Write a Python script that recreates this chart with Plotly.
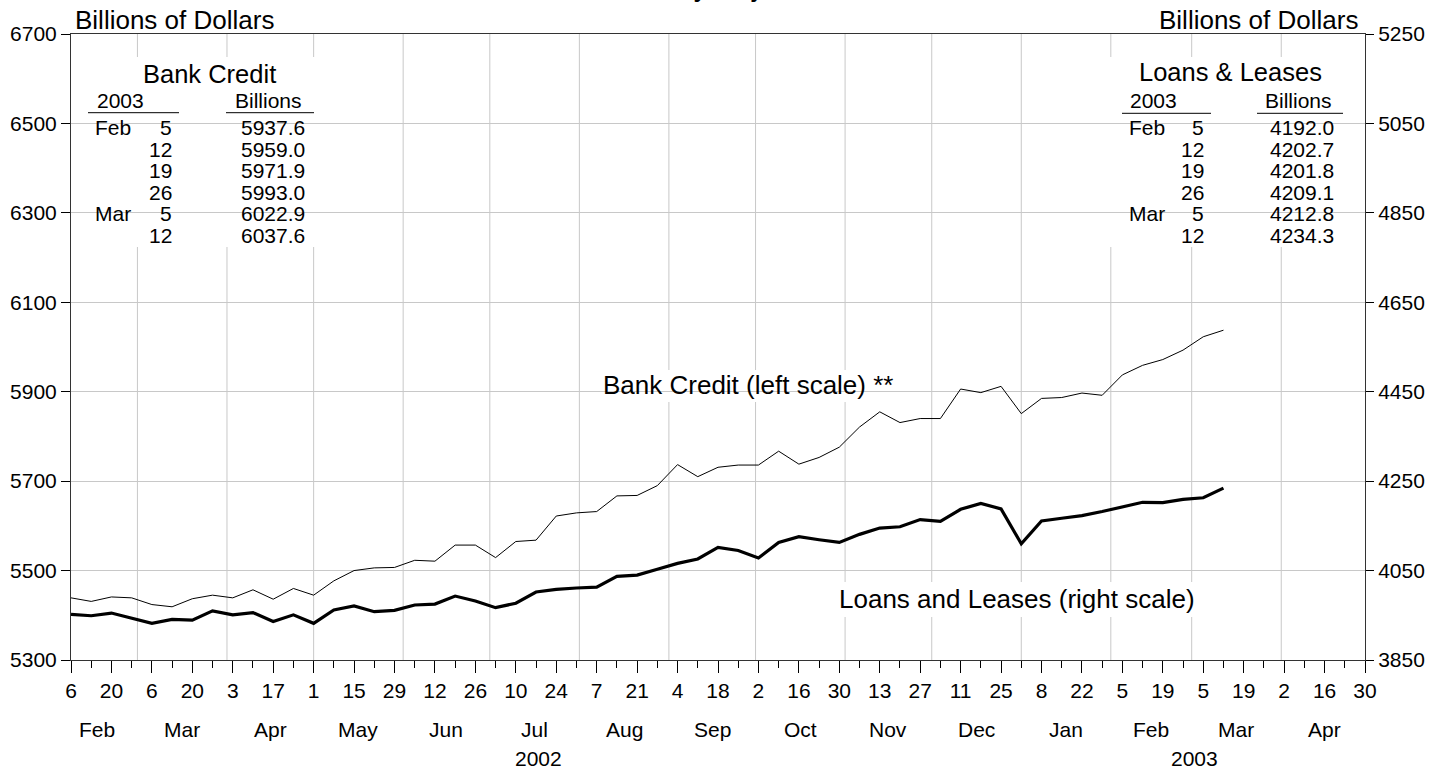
import plotly.graph_objects as go
import pandas as pd

# ---------------- data ----------------
first_week = "2002-02-06"
bank_credit = [5439, 5431, 5441, 5439, 5424, 5419, 5437, 5445, 5439, 5457,
               5436, 5460, 5445, 5477, 5500, 5506, 5507, 5523, 5521, 5557,
               5557, 5529, 5565, 5568, 5622, 5629, 5632, 5667, 5668, 5690,
               5737, 5710, 5731, 5736, 5736, 5767, 5738, 5753, 5776, 5821,
               5855, 5831, 5840, 5840, 5906, 5898, 5912, 5851, 5885, 5887,
               5897, 5892, 5937.6, 5959.0, 5971.9, 5993.0, 6022.9, 6037.6]
loans_leases = [3952, 3949, 3955, 3944, 3932, 3941, 3939, 3960, 3951, 3956,
                3936, 3951, 3932, 3962, 3971, 3958, 3961, 3973, 3975, 3993,
                3982, 3967, 3977, 4002, 4008, 4011, 4013, 4037, 4040, 4053,
                4066, 4076, 4102, 4095, 4078, 4113, 4126, 4119, 4113, 4131,
                4145, 4148, 4164, 4160, 4187, 4200, 4188, 4110, 4161, 4167,
                4173, 4182, 4192.0, 4202.7, 4201.8, 4209.1, 4212.8, 4234.3]

left_ticks = [5300, 5500, 5700, 5900, 6100, 6300, 6500, 6700]
right_ticks = [3850, 4050, 4250, 4450, 4650, 4850, 5050, 5250]
month_labels = ["Feb", "Mar", "Apr", "May", "Jun", "Jul", "Aug", "Sep", "Oct",
                "Nov", "Dec", "Jan", "Feb", "Mar", "Apr"]
month_label_starts = ["2002-02-01", "2002-03-01", "2002-04-01", "2002-05-01",
                      "2002-06-01", "2002-07-01", "2002-08-01", "2002-09-01",
                      "2002-10-01", "2002-11-01", "2002-12-01", "2003-01-01",
                      "2003-02-01", "2003-03-01", "2003-04-01", "2003-05-01"]
year_labels = ["2002", "2003"]
year_spans = [("2002-02-01", "2003-01-01"), ("2003-01-01", "2003-05-01")]

table_months = ["Feb", "", "", "", "Mar", ""]
table_days = ["5", "12", "19", "26", "5", "12"]
table_bank_credit = ["5937.6", "5959.0", "5971.9", "5993.0", "6022.9", "6037.6"]
table_loans = ["4192.0", "4202.7", "4201.8", "4209.1", "4212.8", "4234.3"]

# ---------------- derived positions ----------------
weeks = pd.date_range(first_week, periods=len(bank_credit), freq="7D")
axis_start, axis_end = pd.Timestamp("2002-02-06"), pd.Timestamp("2003-04-30")
label_ticks = pd.date_range(axis_start, axis_end, freq="14D")
label_text = [str(d.day) for d in label_ticks]
week_ticks = pd.date_range(axis_start, axis_end, freq="7D")
month_grid = pd.date_range("2002-03-01", "2003-04-01", freq="MS")
ms = [pd.Timestamp(d) for d in month_label_starts]
month_mids = [ms[i] + (ms[i + 1] - ms[i]) / 2 for i in range(len(month_labels))]
year_mids = [pd.Timestamp(a) + (pd.Timestamp(b) - pd.Timestamp(a)) / 2 for a, b in year_spans]

W, H = 1429, 769
L, R, T, B = 71, 1365, 34, 660
FONT = "Liberation Sans, Arial, Helvetica, sans-serif"
GRID = "#c8c8c8"


def px(x):
    return (x - L) / (R - L)


def py(y):
    return (B - y) / (B - T)


fig = go.Figure()
fig.add_trace(go.Scatter(x=weeks, y=bank_credit, mode="lines",
                         line=dict(color="black", width=1), xaxis="x", yaxis="y",
                         hoverinfo="skip", showlegend=False))
fig.add_trace(go.Scatter(x=weeks, y=loans_leases, mode="lines",
                         line=dict(color="black", width=3.2), xaxis="x", yaxis="y2",
                         hoverinfo="skip", showlegend=False))

ann = []


def text(x, y, s, size=21, xanchor="center", yanchor="middle", xref="paper"):
    ann.append(dict(x=x if xref != "paper" else px(x), y=py(y), xref=xref, yref="paper",
                    text=s, showarrow=False, xanchor=xanchor, yanchor=yanchor,
                    font=dict(family=FONT, size=size, color="black")))


# cut-off title fragment at the very top (only descenders visible, as in reference)
text(697, 4, "Seasonally Adjusted", size=30, yanchor="bottom")
# axis titles
text(73, 20, "Billions of Dollars", size=26, xanchor="left")
text(1360, 20, "Billions of Dollars", size=26, xanchor="right")

# x-axis month and year labels
for lab, mid in zip(month_labels, month_mids):
    text(mid, 729, lab, xref="x")
for lab, mid in zip(year_labels, year_mids):
    text(mid, 759, lab, xref="x")

# tables
row_y = [127.5 + 21.6 * i for i in range(6)]
text(209, 74, "Bank Credit", size=25.5)
text(95, 100, "2003", xanchor="left")
text(304, 100, "Billions", xanchor="right")
text(1230, 72, "Loans & Leases", size=25.5)
text(1128, 100, "2003", xanchor="left")
text(1334, 100, "Billions", xanchor="right")
for i in range(6):
    text(93, row_y[i], table_months[i], xanchor="left")
    text(174, row_y[i], table_days[i], xanchor="right")
    text(307, row_y[i], table_bank_credit[i], xanchor="right")
    text(1127, row_y[i], table_months[i], xanchor="left")
    text(1206, row_y[i], table_days[i], xanchor="right")
    text(1336, row_y[i], table_loans[i], xanchor="right")

# line labels
text(748, 385, "Bank Credit (left scale) **", size=26)
text(1017, 599, "Loans and Leases (right scale)", size=26)

shapes = []
# monthly vertical grid lines, placed through the x (date) scale
for d in month_grid:
    shapes.append(dict(type="line", xref="x", yref="paper", x0=d, x1=d, y0=0, y1=1,
                       line=dict(color=GRID, width=1), layer="between"))


def box(x0, y0, x1, y1):
    shapes.append(dict(type="rect", xref="paper", yref="paper", x0=px(x0), x1=px(x1),
                       y0=py(y1), y1=py(y0), fillcolor="white", line=dict(width=0),
                       layer="between"))


def hline(x0, x1, y):
    shapes.append(dict(type="line", xref="paper", yref="paper", x0=px(x0), x1=px(x1),
                       y0=py(y), y1=py(y), line=dict(color="black", width=1),
                       layer="above"))


box(71.5, 57, 331, 247)
box(1104, 57, 1357, 247)
box(594, 370, 897, 402)
box(832, 582, 1202, 617)
hline(88, 179, 112.7)
hline(226, 314, 112.7)
hline(1122, 1211, 113.3)
hline(1257, 1343, 113.3)

tickfont = dict(family=FONT, size=21, color="black")
fig.update_layout(
    width=W, height=H,
    margin=dict(l=L, r=W - R, t=T, b=H - B, autoexpand=False),
    paper_bgcolor="white", plot_bgcolor="white",
    showlegend=False,
    annotations=ann, shapes=shapes,
    xaxis=dict(type="date", range=[axis_start, axis_end], tickmode="array",
               tickvals=list(label_ticks), ticktext=label_text, ticks="outside",
               ticklen=12, tickwidth=1, tickcolor="black", tickfont=tickfont,
               showgrid=False, zeroline=False, showline=True, linecolor="#333",
               linewidth=1, mirror=True,
               minor=dict(tickmode="array", tickvals=list(week_ticks), ticks="outside",
                          ticklen=7, tickwidth=1, tickcolor="black", showgrid=False)),
    yaxis=dict(range=[5300, 6700], tickmode="array", tickvals=left_ticks,
               ticks="outside", ticklen=9, tickwidth=1, tickcolor="black",
               tickfont=tickfont, showgrid=True, gridcolor=GRID, gridwidth=1,
               zeroline=False, showline=True, linecolor="#333", linewidth=1),
    yaxis2=dict(range=[3850, 5250], overlaying="y", side="right", anchor="x",
                tickmode="array", tickvals=right_ticks, ticks="outside", ticklen=8,
                tickwidth=1, tickcolor="black", tickfont=tickfont, showgrid=False,
                zeroline=False, showline=True, linecolor="#333", linewidth=1),
)

fig.write_html("out.html", config={"displayModeBar": False},
               post_script="document.body.style.margin='0';document.body.style.overflow='hidden';")
